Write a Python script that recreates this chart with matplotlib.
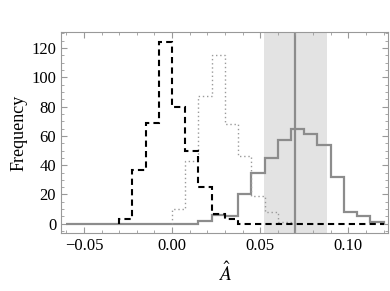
import numpy as np
import matplotlib
matplotlib.use("Agg")
import matplotlib.pyplot as plt
from matplotlib.ticker import MultipleLocator

# bin layout
BIN = 0.0075

# dashed black histogram: starts at -0.03
dashed_start = -0.03
dashed_counts = [3, 37, 69, 124, 80, 50, 25, 7, 3] + [0] * 11

# dotted gray histogram: starts at 0.00
dotted_start = 0.0
dotted_counts = [10, 43, 87, 115, 68, 46, 19, 8, 1]

# solid gray histogram: starts at -0.06
solid_start = -0.06
solid_counts = [0] * 10 + [2, 6, 5, 20, 35, 45, 57, 65, 61, 54, 32, 8, 5, 1]

true_value = 0.07
band = (0.052, 0.088)

plt.rcParams['font.family'] = ['Liberation Serif', 'DejaVu Serif']
plt.rcParams['mathtext.fontset'] = 'stix'

fig = plt.figure(figsize=(3.9, 2.91), dpi=100)
ax = fig.add_axes([61/390, 1-233/291, 327/390, 201/291])

def edges(start, counts):
    return start + BIN * np.arange(len(counts) + 1)

ax.axvspan(band[0], band[1], color='#e3e3e3', lw=0, zorder=0)
ax.axvline(true_value, color='#8c8c8c', lw=1.6, zorder=1)

ax.stairs(solid_counts, edges(solid_start, solid_counts), baseline=0,
          color='#8c8c8c', lw=1.6, zorder=2)
ax.stairs(dotted_counts, edges(dotted_start, dotted_counts), baseline=0,
          color='#9a9a9a', lw=1.0, ls=(0, (1, 2)), zorder=3)
ax.stairs(dashed_counts, edges(dashed_start, dashed_counts), baseline=0,
          color='black', lw=1.5, ls=(0, (3, 2)), zorder=4)

ax.set_xlim(-0.063, 0.1225)
ax.set_ylim(-6.3, 131)

ax.xaxis.set_major_locator(MultipleLocator(0.05))
ax.xaxis.set_minor_locator(MultipleLocator(0.01))
ax.yaxis.set_major_locator(MultipleLocator(20))
ax.yaxis.set_minor_locator(MultipleLocator(5))
ax.xaxis.set_major_formatter(plt.FuncFormatter(lambda v, p: f"{v:.2f}".replace("-", "\u2212")))

ax.tick_params(which='both', direction='in', top=True, right=True,
               color='#999999', labelsize=12, labelcolor='black')
ax.tick_params(which='major', length=4, width=0.8)
ax.tick_params(which='minor', length=2, width=0.6)
for s in ax.spines.values():
    s.set_color('#999999')
    s.set_linewidth(0.8)

ax.set_xlabel(r"$\hat{A}$", fontsize=14, labelpad=5)
ax.set_ylabel("Frequency", fontsize=13, labelpad=3)

fig.savefig("out.png", dpi=100)
